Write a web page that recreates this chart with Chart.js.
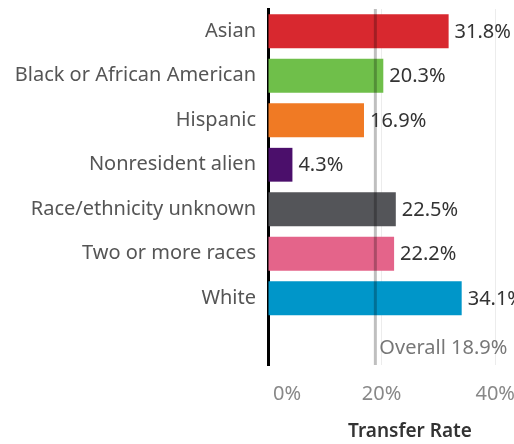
<!DOCTYPE html>
<html>
<head>
<meta charset="utf-8">
<script src="https://cdn.jsdelivr.net/npm/chart.js@4/dist/chart.umd.min.js"></script>
<style>
  html, body { margin: 0; padding: 0; background: #fff; overflow: hidden; }
  #wrap { width: 552px; height: 444px; }
</style>
</head>
<body>
<div id="wrap"><canvas id="rateChart" width="552" height="444"></canvas></div>
<script>
// data
const categories = ["Asian", "Black or African American", "Hispanic", "Nonresident alien",
    "Race/ethnicity unknown", "Two or more races", "White", ""];
const rates = [31.8, 20.3, 16.9, 4.3, 22.5, 22.2, 34.1, null];
const barColors = ["#d8282f", "#6fbf4a", "#f07a24", "#4b0f6b", "#545559", "#e4648a", "#0096c9", "#fff"];
const xTicks = [0, 20, 40];
const overallRate = 18.9;
const axisTitle = "Transfer Rate";

const FONT = "'Noto Sans', sans-serif";

// value labels, overall line and bottom axis text
const extrasPlugin = {
    id: "extras",
    afterDatasetsDraw(chart) {
        const ctx = chart.ctx;
        const area = chart.chartArea;
        const xScale = chart.scales.x;
        const yScale = chart.scales.y;
        const meta = chart.getDatasetMeta(0);

        ctx.save();
        // overall reference line
        const ox = xScale.getPixelForValue(overallRate);
        ctx.strokeStyle = "rgba(0,0,0,0.25)";
        ctx.lineWidth = 3;
        ctx.beginPath();
        ctx.moveTo(ox, area.top);
        ctx.lineTo(ox, area.bottom);
        ctx.stroke();

        // bar value labels
        ctx.font = "20px " + FONT;
        ctx.fillStyle = "#333";
        ctx.textAlign = "left";
        ctx.textBaseline = "middle";
        meta.data.forEach((bar, i) => {
            if (rates[i] == null) return;
            ctx.fillText(rates[i].toFixed(1) + "%", bar.x + 6, bar.y + 1);
        });

        // overall label in the empty last row
        ctx.fillStyle = "#777";
        const lastY = yScale.getPixelForValue(categories.length - 1);
        ctx.fillText("Overall " + overallRate.toFixed(1) + "%", ox + 4, lastY + 6);

        // x tick labels (Tableau nudges the 0% label inward)
        ctx.fillStyle = "#888";
        ctx.textAlign = "center";
        xTicks.forEach((v, i) => {
            const px = xScale.getPixelForValue(v) + (i === 0 ? 19 : 0);
            ctx.fillText(v + "%", px, 394);
        });

        // axis title
        ctx.font = "600 19px " + FONT;
        ctx.fillStyle = "#333";
        ctx.fillText(axisTitle, (area.left + area.right) / 2, 432);
        ctx.restore();
    }
};

const ctx = document.getElementById("rateChart").getContext("2d");
new Chart(ctx, {
    type: "bar",
    data: {
        labels: categories,
        datasets: [{
            data: rates,
            backgroundColor: barColors,
            barPercentage: 0.76,
            categoryPercentage: 1
        }]
    },
    options: {
        indexAxis: "y",
        responsive: false,
        animation: false,
        layout: { padding: { top: 9, right: 0, left: 0, bottom: 0 } },
        plugins: { legend: { display: false }, tooltip: { enabled: false } },
        scales: {
            x: {
                min: 0,
                max: 50,
                afterFit(scale) { scale.height = 79; },
                afterBuildTicks(scale) { scale.ticks = xTicks.map(v => ({ value: v })); },
                ticks: { display: false },
                border: { display: false },
                grid: {
                    drawTicks: false,
                    color: c => (c.tick && c.tick.value === 0) ? "rgba(0,0,0,0)" : "#ececec"
                }
            },
            y: {
                afterFit(scale) {
                    scale.width = 268;
                    scale.paddingTop = 0;
                    scale.paddingBottom = 0;
                },
                grid: { display: false, drawTicks: false },
                border: { display: true, color: "#000", width: 3 },
                ticks: {
                    padding: 12,
                    color: "#555",
                    font: { family: FONT, size: 20 }
                }
            }
        }
    },
    plugins: [extrasPlugin]
});
</script>
</body>
</html>
